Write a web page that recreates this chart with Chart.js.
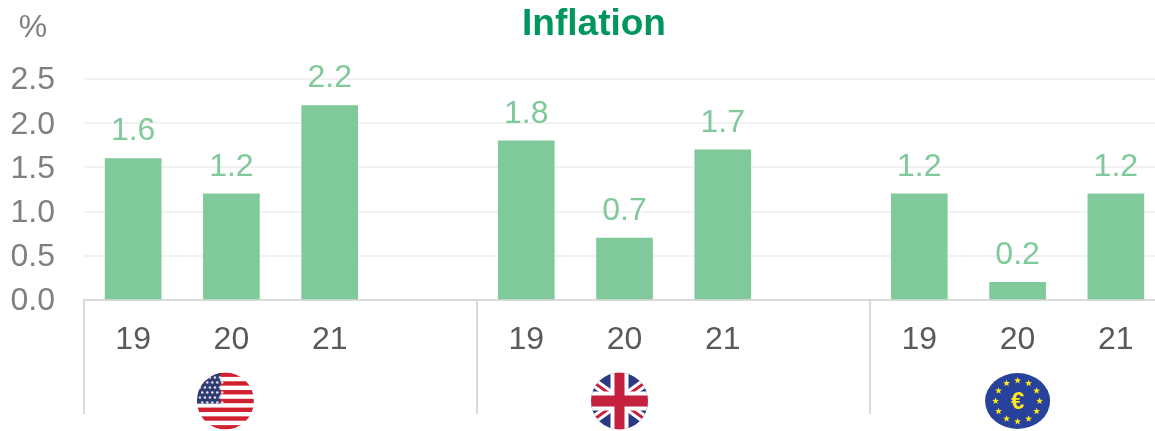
<!DOCTYPE html>
<html>
<head>
<meta charset="utf-8">
<style>
html,body{margin:0;padding:0;background:#fff;overflow:hidden;width:1155px;height:431px}
canvas{display:block}
</style>
<script src="https://cdn.jsdelivr.net/npm/chart.js@4"></script>
</head>
<body>
<canvas id="c" width="1188" height="431"></canvas>
<script>
const categories = ['19','20','21','','19','20','21','','19','20','21'];
const inflation = [1.6,1.2,2.2,null,1.8,0.7,1.7,null,1.2,0.2,1.2];
const yTicks = [0,0.5,1,1.5,2,2.5];
const groupStarts = [0,4,8];
const FONT = '"Liberation Sans", Arial, sans-serif';

function usFlag(ctx,cx,cy,r){
  ctx.save();ctx.beginPath();ctx.arc(cx,cy,r,0,Math.PI*2);ctx.clip();
  ctx.fillStyle='#fff';ctx.fillRect(cx-r,cy-r,2*r,2*r);
  ctx.fillStyle='#d0202e';
  const h=2*r/13;
  for(let i=0;i<7;i++){ctx.fillRect(cx-r,cy-r+i*2*h,2*r,h);}
  ctx.fillStyle='#2f3c72';ctx.fillRect(cx-r,cy-r,r*0.82,r*1.09);
  ctx.fillStyle='#dfe1ee';
  for(let row=0;row<6;row++){for(let col=0;col<5;col++){
    ctx.beginPath();
    ctx.arc(cx-r+3+col*5+(row%2?2.4:0),cy-r+5+row*5,1.25,0,Math.PI*2);ctx.fill();
  }}
  ctx.restore();
}
function ukFlag(ctx,cx,cy,r){
  ctx.save();ctx.beginPath();ctx.arc(cx,cy,r,0,Math.PI*2);ctx.clip();
  ctx.fillStyle='#2b3a80';ctx.fillRect(cx-r,cy-r,2*r,2*r);
  ctx.strokeStyle='#fff';ctx.lineWidth=9;
  ctx.beginPath();ctx.moveTo(cx-r,cy-r*0.72);ctx.lineTo(cx+r,cy+r*0.72);ctx.moveTo(cx+r,cy-r*0.72);ctx.lineTo(cx-r,cy+r*0.72);ctx.stroke();
  ctx.strokeStyle='#c4213f';ctx.lineWidth=3;
  ctx.beginPath();ctx.moveTo(cx-r,cy-r*0.72);ctx.lineTo(cx,cy);ctx.moveTo(cx+r,cy+r*0.72);ctx.lineTo(cx,cy);
  ctx.moveTo(cx+r,cy-r*0.72);ctx.lineTo(cx,cy);ctx.moveTo(cx-r,cy+r*0.72);ctx.lineTo(cx,cy);ctx.stroke();
  ctx.fillStyle='#fff';ctx.fillRect(cx-r,cy-9.5,2*r,19);ctx.fillRect(cx-9,cy-r,18,2*r);
  ctx.fillStyle='#c4213f';ctx.fillRect(cx-r,cy-5.5,2*r,11);ctx.fillRect(cx-5,cy-r,10,2*r);
  ctx.restore();
}
function star(ctx,x,y,R){
  ctx.beginPath();
  for(let i=0;i<10;i++){
    const a=-Math.PI/2+i*Math.PI/5, q=i%2?R*0.42:R;
    ctx.lineTo(x+q*Math.cos(a),y+q*Math.sin(a));
  }
  ctx.closePath();ctx.fill();
}
function euFlag(ctx,cx,cy,rx,ry){
  ctx.save();
  ctx.fillStyle='#28429b';ctx.beginPath();ctx.ellipse(cx,cy,rx,ry,0,0,Math.PI*2);ctx.fill();
  ctx.fillStyle='#ffe81a';
  for(let i=0;i<12;i++){
    const a=i*Math.PI/6;
    star(ctx,cx+22*Math.sin(a),cy-20.5*Math.cos(a),3.6);
  }
  ctx.font='bold 24px '+FONT;ctx.textAlign='center';ctx.textBaseline='middle';
  ctx.fillText('€',cx,cy+1);
  ctx.restore();
}

const decor = {
  id:'decor',
  afterDatasetsDraw(chart){
    const {ctx,scales:{x,y},chartArea:a}=chart;
    const meta=chart.getDatasetMeta(0);
    ctx.save();
    ctx.font='32px '+FONT;ctx.fillStyle='#80c99b';ctx.textAlign='center';ctx.textBaseline='middle';
    meta.data.forEach((b,i)=>{
      if(inflation[i]==null)return;
      ctx.fillText(inflation[i].toFixed(1),b.x,b.y-27);
    });
    ctx.fillStyle='#7f7f7f';
    ctx.fillText('%',33,28);
    ctx.strokeStyle='#d9d9d9';ctx.lineWidth=2;
    const step=x.getPixelForValue(1)-x.getPixelForValue(0);
    groupStarts.forEach(s=>{
      const px=Math.round(x.getPixelForValue(s)-step/2);
      ctx.beginPath();ctx.moveTo(px,a.bottom);ctx.lineTo(px,414);ctx.stroke();
    });
    const cy=401;
    usFlag(ctx,x.getPixelForValue(1)-6,cy,28.5);
    ukFlag(ctx,x.getPixelForValue(5)-5,cy,28.5);
    euFlag(ctx,x.getPixelForValue(9),cy,32.5,28);
    ctx.restore();
  }
};

new Chart(document.getElementById('c'),{
  type:'bar',
  data:{labels:categories,datasets:[{data:inflation,backgroundColor:'#80c99b',barThickness:56,borderWidth:0}]},
  plugins:[decor],
  options:{
    responsive:false,animation:false,devicePixelRatio:1,
    layout:{padding:0},
    plugins:{
      legend:{display:false},tooltip:{enabled:false},
      title:{display:true,text:'Inflation',color:'#00965e',font:{family:FONT,size:37,weight:'bold'},padding:{top:3,bottom:31.6}}
    },
    scales:{
      x:{
        grid:{display:false,drawTicks:false},
        border:{color:'#d9d9d9',width:2},
        ticks:{color:'#595959',font:{family:FONT,size:32},padding:21,maxRotation:0,autoSkip:false},
        afterFit(s){s.height=131;}
      },
      y:{
        min:0,max:2.5,
        afterBuildTicks(s){s.ticks=yTicks.map(v=>({value:v}));},
        grid:{color:'#f2f2f2',lineWidth:2,drawTicks:false},
        border:{display:false},
        ticks:{color:'#7f7f7f',font:{family:FONT,size:32},padding:29,labelOffset:1.5,callback:v=>Number(v).toFixed(1)},
        afterFit(s){s.width=84;}
      },
      spacer:{
        position:'right',display:true,
        grid:{display:false,drawTicks:false},
        border:{display:false},
        ticks:{display:false},
        afterFit(s){s.width=23;}
      }
    }
  }
});
</script>
</body>
</html>
